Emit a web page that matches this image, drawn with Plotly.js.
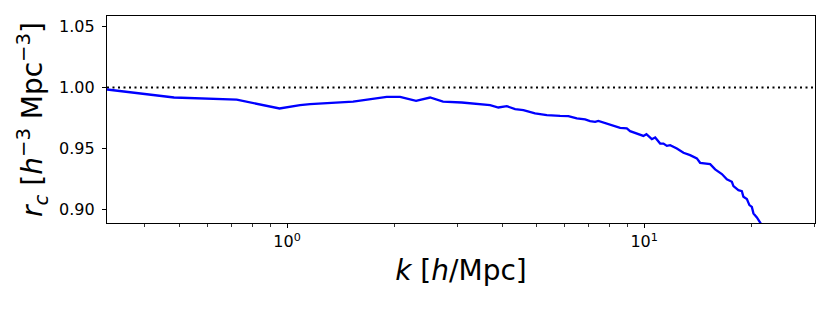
<!DOCTYPE html>
<html>
<head>
<meta charset="utf-8">
<script src="https://cdn.plot.ly/plotly-3.0.1.min.js"></script>
<style>html,body{margin:0;padding:0;background:#fff;}#chart{width:830px;height:312px;}</style>
</head>
<body>
<div id="chart"></div>
<script>
// k in h/Mpc
var kValues = [0.3132, 0.4826, 0.7229, 0.9528, 1.0875, 1.160, 1.531, 1.902, 2.073, 2.298, 2.515, 2.735, 3.086, 3.547,
  3.704, 3.907, 4.125, 4.352, 4.591, 4.95, 5.34, 5.817, 6.137, 6.479, 6.834, 7.058, 7.29, 7.447, 7.778, 8.204,
  8.567, 8.944, 9.137, 9.954, 10.15, 10.51, 10.74, 11.09, 11.33, 11.58, 11.83, 12.35, 12.89, 13.45, 14.05,
  14.35, 15.31, 15.81, 16.51, 17.05, 17.61, 17.79, 18.37, 18.78, 18.97, 19.40, 19.72, 20.03, 20.24, 20.69,
  21.13, 21.69];
// cross-correlation coefficient r_c
var rcValues = [0.9984, 0.9918, 0.9900, 0.9828, 0.9855, 0.9864, 0.9885, 0.9923, 0.9923, 0.9890, 0.9918, 0.9885, 0.9877, 0.9863,
  0.9855, 0.9836, 0.9847, 0.9822, 0.9814, 0.9787, 0.9773, 0.9767, 0.9765, 0.9746, 0.9738, 0.9724, 0.9718, 0.9726, 0.9710, 0.9691,
  0.9669, 0.9664, 0.9642, 0.9603, 0.9617, 0.9576, 0.9590, 0.9540, 0.9540, 0.9521, 0.9527, 0.9500, 0.9464, 0.9445, 0.9418,
  0.9382, 0.9371, 0.9328, 0.9290, 0.9246, 0.9226, 0.9191, 0.9158, 0.9150, 0.9103, 0.9084, 0.9035, 0.9020, 0.8967, 0.8934,
  0.8890, 0.8840];
var refLevel = 1.0;
var xMajorTicks = [1, 10];
var xMajorLabels = ["10<sup>0</sup>", "10<sup>1</sup>"];
var xMinorTicks = [0.4, 0.5, 0.6, 0.7, 0.8, 0.9, 2, 3, 4, 5, 6, 7, 8, 9, 20, 30];
var yTicks = [0.90, 0.95, 1.00, 1.05];
var xRange = [0.3132, 30.1];
var yRange = [0.8888, 1.0587];

var font = "DejaVu Sans, sans-serif";
var traces = [
  {x: xRange, y: [refLevel, refLevel], mode: "lines", type: "scatter",
   line: {color: "#000000", width: 2, dash: "2px,3.5px"}, hoverinfo: "skip"},
  {x: kValues, y: rcValues, mode: "lines", type: "scatter",
   line: {color: "#0000ff", width: 2.3}}
];
var layout = {
  width: 830, height: 312,
  margin: {l: 107, r: 15, t: 16, b: 89},
  paper_bgcolor: "#ffffff", plot_bgcolor: "#ffffff",
  showlegend: false,
  font: {family: font, color: "#000000", size: 16},
  xaxis: {
    type: "log",
    range: [Math.log10(xRange[0]), Math.log10(xRange[1])],
    tickmode: "array", tickvals: xMajorTicks, ticktext: xMajorLabels,
    ticks: "outside", ticklen: 4, tickwidth: 1, tickcolor: "#000",
    minor: {tickmode: "array", tickvals: xMinorTicks, ticks: "outside", ticklen: 2.5, tickwidth: 0.8, tickcolor: "#000", showgrid: false},
    showline: true, linecolor: "#000", linewidth: 1.2, mirror: true,
    showgrid: false, zeroline: false,
    tickfont: {family: font, size: 16},
    title: {text: "<i>k</i> [<i>h</i>/Mpc]", font: {family: font, size: 28}, standoff: 10}
  },
  yaxis: {
    range: yRange,
    tickmode: "array", tickvals: yTicks, tickformat: ".2f",
    ticks: "outside", ticklen: 4, tickwidth: 1, tickcolor: "#000",
    ticklabelstandoff: 4,
    showline: true, linecolor: "#000", linewidth: 1.2, mirror: true,
    showgrid: false, zeroline: false,
    tickfont: {family: font, size: 16},
    title: {text: "<i>r<sub>c</sub></i> [<i>h</i><sup>−3</sup> Mpc<sup>−3</sup>]", font: {family: font, size: 28}, standoff: 8}
  }
};
Plotly.newPlot("chart", traces, layout, {displayModeBar: false, staticPlot: true});
</script>
</body>
</html>
